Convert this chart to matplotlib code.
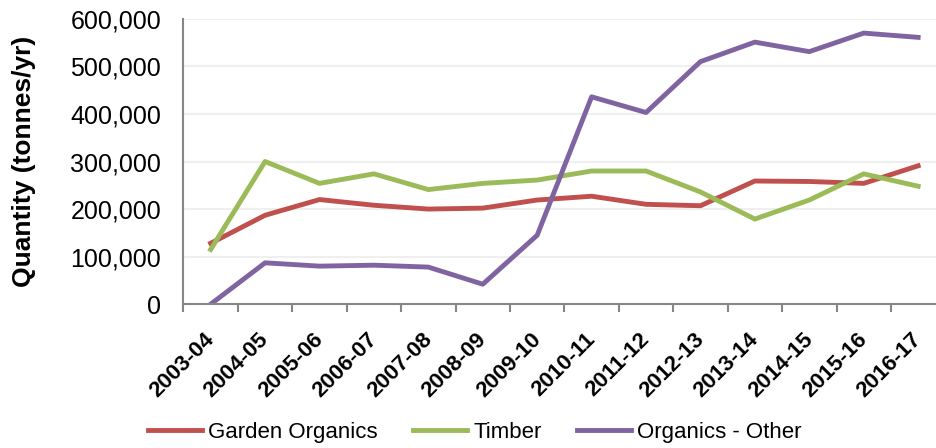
import matplotlib.pyplot as plt
import matplotlib.transforms as mtransforms
import numpy as np
from matplotlib.ticker import FuncFormatter

plt.rcParams['font.family'] = ['Liberation Sans', 'DejaVu Sans']

years = ['2003-04', '2004-05', '2005-06', '2006-07', '2007-08', '2008-09', '2009-10',
         '2010-11', '2011-12', '2012-13', '2013-14', '2014-15', '2015-16', '2016-17']
garden_organics = [128000, 187000, 220000, 208000, 200000, 202000, 219000,
                   227000, 210000, 207000, 259000, 258000, 254000, 291000]
timber = [115000, 300000, 254000, 274000, 241000, 254000, 261000,
          280000, 280000, 236000, 179000, 219000, 274000, 248000]
organics_other = [0, 87000, 80000, 82000, 78000, 42000, 145000,
                  436000, 403000, 510000, 551000, 531000, 570000, 561000]

fig = plt.figure(figsize=(9.36, 4.48), dpi=100)
ax = fig.add_axes([0.196, 0.321, 0.814, 0.637])

x = np.arange(len(years))
ax.plot(x, garden_organics, color='#C0504D', linewidth=3.5, label='Garden Organics')
ax.plot(x, timber, color='#9BBB59', linewidth=3.5, label='Timber')
ax.plot(x, organics_other, color='#8064A2', linewidth=3.5, label='Organics - Other')

ax.set_xlim(-0.5, len(years) - 0.5)
ax.set_ylim(0, 600000)
ax.set_yticks(np.arange(0, 600001, 100000))
ax.yaxis.set_major_formatter(FuncFormatter(lambda v, p: f'{int(v):,}'))
ax.tick_params(axis='y', length=0, labelsize=18, pad=16, colors='#000000')
ax.grid(axis='y', color='#EFEFEF', linewidth=1.5)
ax.set_axisbelow(True)

# category labels centred on points, tick marks between categories
ax.set_xticks(x)
ax.set_xticklabels(years, rotation=45, ha='right', rotation_mode='anchor',
                   fontsize=16, fontweight='bold')
ax.tick_params(axis='x', which='major', length=0, pad=18)
shift = mtransforms.ScaledTranslation(-7 / 100, 0, fig.dpi_scale_trans)
for lbl in ax.get_xticklabels():
    lbl.set_transform(lbl.get_transform() + shift)
ax.set_xticks(np.arange(-0.5, len(years), 1), minor=True)
ax.tick_params(axis='x', which='minor', length=6, width=1.5, color='#868686', direction='out')

for side in ['top', 'right']:
    ax.spines[side].set_visible(False)
for side in ['left', 'bottom']:
    ax.spines[side].set_color('#868686')
    ax.spines[side].set_linewidth(1.5)

ax.set_ylabel('Quantity (tonnes/yr)', fontsize=19, fontweight='bold', labelpad=25)

fig.legend(loc='center', bbox_to_anchor=(0.5075, 0.034), ncol=3, frameon=False,
           fontsize=16, handlelength=2.4, handletextpad=0.3, columnspacing=1.6)

fig.savefig('out.png', dpi=100)
